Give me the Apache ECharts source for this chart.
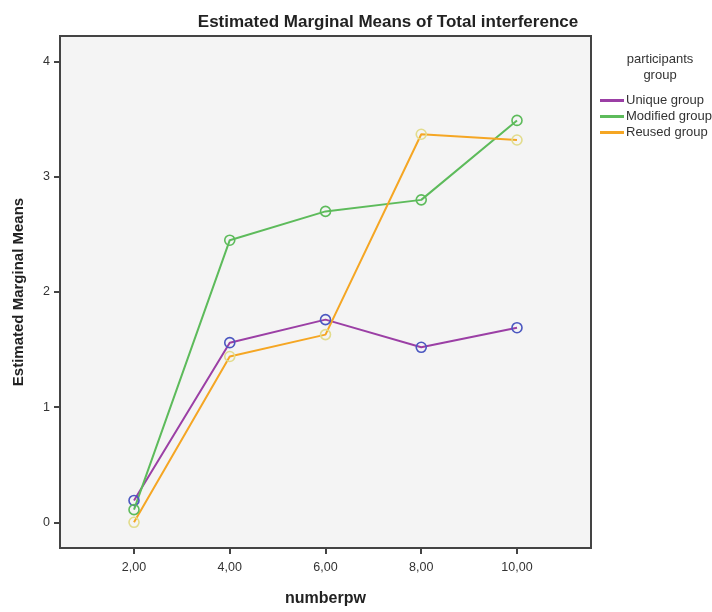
<!DOCTYPE html>
<html>
<head>
<meta charset="utf-8">
<script src="https://cdn.jsdelivr.net/npm/echarts@6/dist/echarts.min.js"></script>
<style>
  html, body { margin: 0; padding: 0; background: #fff; }
  #chart { width: 712px; height: 612px; }
</style>
</head>
<body>
<div id="chart"></div>
<script>
// numberpw levels and tick labels
const xValues = [2, 4, 6, 8, 10];
const xLabels = ["2,00", "4,00", "6,00", "8,00", "10,00"];
const yTicks = [0, 1, 2, 3, 4];

// estimated marginal means per group
const uniqueGroup = [0.19, 1.56, 1.76, 1.52, 1.69];
const modifiedGroup = [0.11, 2.45, 2.70, 2.80, 3.49];
const reusedGroup = [0.00, 1.44, 1.63, 3.37, 3.32];

const groupNames = ["Unique group", "Modified group", "Reused group"];

const FONT = "Liberation Sans, Arial, sans-serif";

function pairs(values) {
  return xValues.map((x, i) => [x, values[i]]);
}

function makeSeries(name, values, lineColor, markerColor) {
  return {
    name,
    type: "line",
    data: pairs(values),
    symbol: "circle",
    symbolSize: 10,
    showAllSymbol: true,
    lineStyle: { color: lineColor, width: 2 },
    itemStyle: { color: "rgba(0,0,0,0)", borderColor: markerColor, borderWidth: 1.6 },
    emphasis: { disabled: true },
    z: 3,
  };
}

const chart = echarts.init(document.getElementById("chart"));
chart.setOption({
  animation: false,
  backgroundColor: "#fff",
  textStyle: { fontFamily: FONT },
  title: [
    {
      text: "Estimated Marginal Means of Total interference",
      left: 383,
      top: 9,
      textAlign: "center",
      textStyle: { fontSize: 17, fontWeight: "bold", color: "#222", fontFamily: FONT },
    },
    {
      text: "participants\ngroup",
      left: 655,
      top: 46,
      textAlign: "center",
      textStyle: { fontSize: 13, fontWeight: "normal", color: "#333", lineHeight: 16, fontFamily: FONT },
    },
  ],
  legend: {
    orient: "vertical",
    left: 595,
    top: 89,
    itemGap: 3,
    itemWidth: 24,
    itemHeight: 3,
    icon: "rect",
    textStyle: { fontSize: 13, color: "#333", padding: [0, 0, 0, -3] },
    data: [
      { name: groupNames[0], itemStyle: { color: "#9b3fa5", borderWidth: 0 } },
      { name: groupNames[1], itemStyle: { color: "#5dbb5b", borderWidth: 0 } },
      { name: groupNames[2], itemStyle: { color: "#f5a623", borderWidth: 0 } },
    ],
    selectedMode: false,
  },
  grid: {
    left: 60,
    right: 121,
    top: 36,
    bottom: 58,
    show: true,
    backgroundColor: "#f4f4f4",
    borderColor: "#444",
    borderWidth: 2,
  },
  xAxis: {
    type: "value",
    min: 0.454,
    max: 11.546,
    name: "numberpw",
    nameLocation: "middle",
    nameGap: 43,
    nameTextStyle: { fontSize: 16, fontWeight: "bold", color: "#222" },
    axisLine: { show: true, onZero: false, lineStyle: { color: "#444", width: 2 } },
    axisTick: { show: true, inside: false, length: 6, customValues: xValues, lineStyle: { color: "#444", width: 2 } },
    axisLabel: {
      customValues: xValues,
      formatter: (v) => xLabels[xValues.indexOf(v)],
      fontSize: 12.5,
      color: "#333",
      margin: 13,
    },
    splitLine: { show: false },
  },
  yAxis: {
    type: "value",
    min: -0.223,
    max: 4.223,
    name: "Estimated Marginal Means",
    nameLocation: "middle",
    nameGap: 34,
    nameTextStyle: { fontSize: 15, fontWeight: "bold", color: "#222" },
    axisLine: { show: true, onZero: false, lineStyle: { color: "#444", width: 2 } },
    axisTick: { show: true, inside: false, length: 6, customValues: yTicks, lineStyle: { color: "#444", width: 2 } },
    axisLabel: { customValues: yTicks, fontSize: 12.5, color: "#333", margin: 10 },
    splitLine: { show: false },
  },
  series: [
    makeSeries(groupNames[0], uniqueGroup, "#9b3fa5", "#4b57c0"),
    makeSeries(groupNames[1], modifiedGroup, "#5dbb5b", "#5dbb5b"),
    makeSeries(groupNames[2], reusedGroup, "#f5a623", "#e2dc8c"),
  ],
});
</script>
</body>
</html>
